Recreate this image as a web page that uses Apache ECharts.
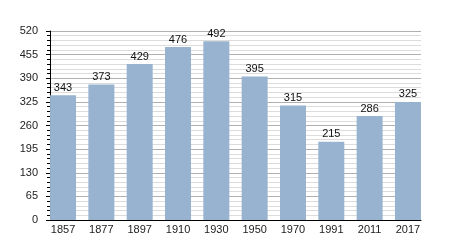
<!DOCTYPE html>
<html><head><meta charset="utf-8">
<script src="https://cdn.jsdelivr.net/npm/echarts@6/dist/echarts.min.js"></script>
<style>html,body{margin:0;padding:0;background:#fff}#c{width:450px;height:250px}</style>
</head><body><div id="c"></div>
<script>
const years = ['1857','1877','1897','1910','1930','1950','1970','1991','2011','2017'];
const population = [343,373,429,476,492,395,315,215,286,325];
const yTicks = [0,65,130,195,260,325,390,455,520];

const chart = echarts.init(document.getElementById('c'), null, {renderer:'canvas'});
const half = 0.34;
chart.setOption({
  animation:false,
  backgroundColor:'#fff',
  textStyle:{fontFamily:'"Liberation Sans", Arial, sans-serif'},
  grid:{left:50, top:31, width:371, height:189, containLabel:false},
  xAxis:{
    type:'value', min:-half, max:years.length-1+half,
    axisLine:{show:true, onZero:false, lineStyle:{color:'#000', width:1}},
    axisTick:{show:false},
    splitLine:{show:false},
    axisLabel:{
      customValues: years.map((_,i)=>i),
      formatter:(v)=>years[Math.round(v)],
      color:'#222', fontSize:11, margin:4
    }
  },
  yAxis:{
    type:'value', min:yTicks[0], max:yTicks[yTicks.length-1], interval:65,
    axisLine:{show:true, onZero:false, lineStyle:{color:'#000', width:1}},
    axisTick:{show:true, length:4, lineStyle:{color:'#000'}},
    minorTick:{show:true, splitNumber:5, length:3, lineStyle:{color:'#000'}},
    splitLine:{show:true, lineStyle:{color:'#b0b0b0', width:1}},
    minorSplitLine:{show:true, lineStyle:{color:'#dcdcdc', width:1}},
    axisLabel:{color:'#222', fontSize:11, margin:12}
  },
  series:[{
    type:'bar',
    data: population.map((v,i)=>[i,v]),
    barWidth:26,
    itemStyle:{color:'#98b3cf'},
    label:{show:true, position:'top', color:'#111', fontSize:11, distance:2,
      formatter:(p)=>p.value[1]}
  }]
});
</script></body></html>
